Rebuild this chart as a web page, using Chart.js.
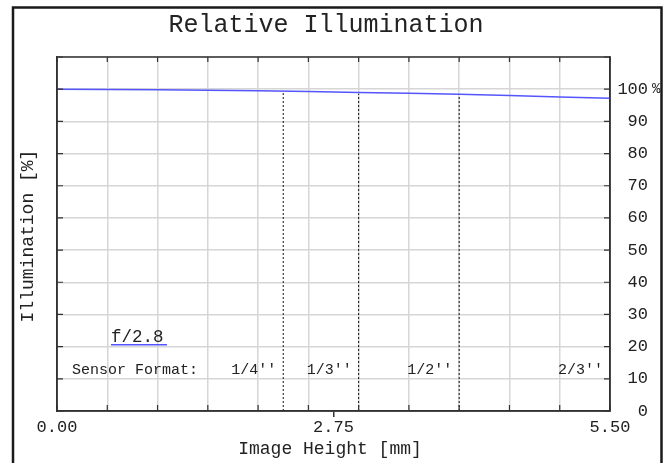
<!DOCTYPE html>
<html><head><meta charset="utf-8">
<script src="https://cdn.jsdelivr.net/npm/chart.js@4/dist/chart.umd.min.js"></script>
<style>html,body{margin:0;padding:0;background:#fff}#wrap{width:667px;height:463px}</style>
</head><body><div id="wrap"><canvas id="c" width="667" height="463"></canvas></div>
<script>
// ---- data ----
const imageHeights = [0, 0.5, 1, 1.5, 2, 2.5, 3, 3.5, 4, 4.5, 5, 5.5];
const illumination = [100, 99.9, 99.8, 99.7, 99.5, 99.3, 99.0, 98.7, 98.4, 98.0, 97.6, 97.2];
const sensorFormats = ["1/4''", "1/3''", "1/2''", "2/3''"];
const sensorHalfDiag = [2.25, 3.0, 4.0, 5.5];
const sensorLineTop = [98.8, 98.6, 97.9];
const xGridTicks = [0, 0.5, 1, 1.5, 2, 2.5, 3, 3.5, 4, 4.5, 5, 5.5];
const xLabelTicks = [0, 2.75, 5.5];
const yTicks = [0, 10, 20, 30, 40, 50, 60, 70, 80, 90, 100, 110];
const fNumber = "f/2.8";

const MONO = "'Liberation Mono', 'DejaVu Sans Mono', monospace";
const GRID = '#d6d6d6', AX = '#333', TXT = '#222', BLUE = '#5555ff';

const datasets = [{
  data: imageHeights.map((x, i) => ({x, y: illumination[i]})),
  borderColor: BLUE, borderWidth: 1.5, pointRadius: 0, tension: 0
}];
sensorLineTop.forEach((t, i) => datasets.push({
  data: [{x: sensorHalfDiag[i], y: 0}, {x: sensorHalfDiag[i], y: t}],
  borderColor: '#111', borderWidth: 1, borderDash: [2, 2], pointRadius: 0
}));

const deco = {
  id: 'deco',
  afterDraw(chart) {
    const ctx = chart.ctx, a = chart.chartArea;
    const xs = chart.scales.x, ys = chart.scales.y;
    ctx.save();
    // outer frame
    ctx.strokeStyle = '#1a1a1a'; ctx.lineWidth = 2.5;
    ctx.beginPath(); ctx.moveTo(13, 470); ctx.lineTo(13, 7.5); ctx.lineTo(661.5, 7.5); ctx.lineTo(661.5, 470); ctx.stroke();
    // plot box
    ctx.strokeStyle = AX; ctx.lineWidth = 1.5;
    ctx.strokeRect(a.left, a.top, a.right - a.left, a.bottom - a.top);
    // inside tick marks
    ctx.lineWidth = 1.2;
    ctx.beginPath();
    yTicks.forEach(v => {
      const y = ys.getPixelForValue(v);
      ctx.moveTo(a.left, y); ctx.lineTo(a.left + 6, y);
      ctx.moveTo(a.right, y); ctx.lineTo(a.right - 6, y);
    });
    xGridTicks.forEach(v => {
      const x = xs.getPixelForValue(v);
      ctx.moveTo(x, a.bottom); ctx.lineTo(x, a.bottom - 6);
      ctx.moveTo(x, a.top); ctx.lineTo(x, a.top + 5);
    });
    ctx.stroke();
    // titles
    ctx.fillStyle = TXT;
    ctx.textAlign = 'center'; ctx.textBaseline = 'middle';
    ctx.font = '25px ' + MONO;
    ctx.fillText('Relative Illumination', 326, 25);
    ctx.font = '18px ' + MONO;
    ctx.fillText('Image Height [mm]', 330, 449);
    ctx.save(); ctx.translate(28, 236); ctx.rotate(-Math.PI / 2);
    ctx.fillText('Illumination [%]', 0, 0); ctx.restore();
    // percent sign
    ctx.font = '14px ' + MONO; ctx.textAlign = 'left';
    ctx.fillText('%', 652, ys.getPixelForValue(100));
    // f-number legend
    ctx.font = '17.5px ' + MONO; ctx.textAlign = 'left';
    const fy = ys.getPixelForValue(22.8);
    ctx.fillText(fNumber, 111, fy);
    ctx.strokeStyle = BLUE; ctx.lineWidth = 1.5;
    ctx.beginPath(); ctx.moveTo(111, fy + 7); ctx.lineTo(167, fy + 7); ctx.stroke();
    // sensor format labels
    ctx.font = '15px ' + MONO;
    const sy = ys.getPixelForValue(12.6);
    ctx.fillText('Sensor Format:', 72, sy);
    ctx.textAlign = 'right';
    sensorFormats.forEach((s, i) => ctx.fillText(s, xs.getPixelForValue(sensorHalfDiag[i]) - 7, sy));
    ctx.restore();
  }
};

new Chart(document.getElementById('c'), {
  type: 'line',
  data: {datasets},
  options: {
    responsive: false, animation: false,
    layout: {padding: {top: 57, left: 0, right: 19, bottom: 0}},
    plugins: {legend: {display: false}, tooltip: {enabled: false}, title: {display: false}},
    scales: {
      x: {
        type: 'linear', min: 0, max: 5.5, position: 'bottom',
        afterBuildTicks: s => { s.ticks = xGridTicks.concat([2.75]).sort((p, q) => p - q).map(v => ({value: v})); },
        afterFit: s => { s.height = 52; },
        ticks: {autoSkip: false, maxRotation: 0, padding: 0, color: TXT, font: {family: MONO, size: 17},
          callback: v => xLabelTicks.includes(v) ? v.toFixed(2) : ''},
        grid: {lineWidth: 1.5, tickLength: 6,
          color: c => (c.tick && c.tick.value === 2.75) ? 'rgba(0,0,0,0)' : GRID,
          tickColor: c => (c.tick && c.tick.value === 2.75) ? AX : 'rgba(0,0,0,0)'},
        border: {color: AX, width: 1.5}
      },
      y: {
        position: 'right', min: 0, max: 110,
        afterBuildTicks: s => { s.ticks = yTicks.map(v => ({value: v})); },
        afterFit: s => { s.width = 38; },
        ticks: {crossAlign: 'far', padding: 3, color: TXT, font: {family: MONO, size: 17},
          callback: v => v === 110 ? '' : String(v)},
        grid: {color: GRID, lineWidth: 1.5, tickLength: 4, tickColor: 'rgba(0,0,0,0)'},
        border: {color: AX, width: 1.5}
      },
      yL: {
        position: 'left', min: 0, max: 110,
        afterFit: s => { s.width = 57; },
        ticks: {display: false},
        grid: {drawOnChartArea: false, drawTicks: false},
        border: {color: AX, width: 1.5}
      }
    }
  },
  plugins: [deco]
});
</script>
</body></html>
